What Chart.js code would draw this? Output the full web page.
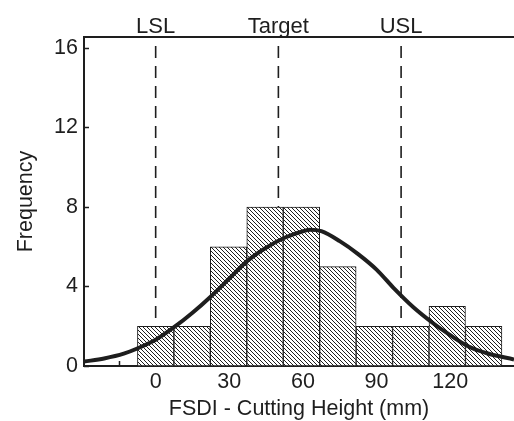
<!DOCTYPE html>
<html>
<head>
<meta charset="utf-8">
<script src="https://cdn.jsdelivr.net/npm/chart.js@4"></script>
<style>
  html, body { margin: 0; padding: 0; background: #fff; }
</style>
</head>
<body>
<canvas id="hist" width="514" height="421"></canvas>
<script>
// histogram bins (centre of each bin, mm) and counts
var binCenters = [0, 14.85, 29.7, 44.55, 59.4, 74.25, 89.1, 103.95, 118.8, 133.65];
var counts = [2, 2, 6, 8, 8, 5, 2, 2, 3, 2];

// fitted normal curve
var curveX = [-29.2, -21, -13, -7.5, 0, 7.5, 15, 22.5, 30, 37.5, 45, 52.5, 60, 63, 67.5, 75, 82.5, 90, 97.5, 105, 112.5, 120, 127.5, 135, 146];
var curveY = [0.22, 0.38, 0.62, 0.88, 1.32, 1.95, 2.68, 3.5, 4.4, 5.3, 5.95, 6.45, 6.78, 6.86, 6.78, 6.28, 5.63, 4.85, 3.85, 2.95, 2.2, 1.55, 0.98, 0.64, 0.33];

// spec limits
var limitNames = ["LSL", "Target", "USL"];
var limitValues = [0, 50, 100];
var limitTop = 16.1;

// axes
var xTicks = [0, 30, 60, 90, 120];
var xTickMarks = [-15, 0, 15, 30, 45, 60, 75, 90, 105, 120, 135];
var yTicks = [0, 4, 8, 12, 16];
var xRange = [-29.2, 146];
var yRange = [0, 16.55];

var ink = '#1e1e1e';
var fontFamily = '"Liberation Sans", Arial, Helvetica, sans-serif';
var fontSize = 21.5;

var canvas = document.getElementById('hist');
var ctx = canvas.getContext('2d');

function makeHatch() {
  var c = document.createElement('canvas');
  c.width = 4; c.height = 4;
  var g = c.getContext('2d');
  g.fillStyle = '#fff';
  g.fillRect(0, 0, 4, 4);
  g.strokeStyle = ink;
  g.lineWidth = 1;
  g.beginPath();
  g.moveTo(-1, -1); g.lineTo(5, 5);
  g.moveTo(-1, 3); g.lineTo(1, 5);
  g.moveTo(3, -1); g.lineTo(5, 1);
  g.stroke();
  return ctx.createPattern(c, 'repeat');
}

var limitSets = limitValues.map(function (v) {
  return {
    type: 'line',
    data: [{x: v, y: limitTop}, {x: v, y: 0}],
    borderColor: ink,
    borderWidth: 1.6,
    borderDash: [12, 8],
    pointRadius: 0,
    order: 3
  };
});

var decor = {
  id: 'decor',
  beforeDatasetsDraw: function (chart) {
    var c = chart.ctx, a = chart.chartArea, x = chart.scales.x, y = chart.scales.y;
    c.save();
    c.strokeStyle = ink;
    c.lineWidth = 1.5;
    c.beginPath();
    yTicks.forEach(function (v) {
      var py = Math.round(y.getPixelForValue(v)) + 0.5;
      c.moveTo(a.left, py); c.lineTo(a.left + 5, py);
    });
    xTickMarks.forEach(function (v) {
      var px = Math.round(x.getPixelForValue(v)) + 0.5;
      c.moveTo(px, a.bottom); c.lineTo(px, a.bottom - 5);
    });
    c.stroke();
    c.restore();
  },
  afterDraw: function (chart) {
    var c = chart.ctx, a = chart.chartArea, x = chart.scales.x;
    c.save();
    c.strokeStyle = ink;
    c.lineWidth = 2;
    c.beginPath();
    c.moveTo(a.left, a.top);
    c.lineTo(a.right, a.top);
    c.stroke();
    c.fillStyle = ink;
    c.font = '22px ' + fontFamily;
    c.textAlign = 'center';
    c.textBaseline = 'alphabetic';
    limitNames.forEach(function (name, i) {
      c.fillText(name, x.getPixelForValue(limitValues[i]), a.top - 4);
    });
    c.restore();
  }
};

new Chart(canvas, {
  type: 'line',
  data: {
    datasets: [{
      type: 'line',
      data: curveX.map(function (v, i) { return {x: v, y: curveY[i]}; }),
      borderColor: ink,
      borderWidth: 4,
      pointRadius: 0,
      cubicInterpolationMode: 'monotone',
      order: 1
    }, {
      type: 'bar',
      data: binCenters.map(function (v, i) { return {x: v, y: counts[i]}; }),
      backgroundColor: makeHatch(),
      borderColor: ink,
      borderWidth: 1,
      borderSkipped: false,
      barPercentage: 1,
      categoryPercentage: 1,
      order: 2
    }].concat(limitSets)
  },
  options: {
    responsive: false,
    animation: false,
    devicePixelRatio: 1,
    layout: { padding: { top: 37, right: 0, bottom: 0, left: 0 } },
    plugins: { legend: { display: false }, tooltip: { enabled: false } },
    scales: {
      x: {
        type: 'linear',
        min: xRange[0],
        max: xRange[1],
        offset: false,
        grid: { display: false, drawTicks: false },
        border: { display: true, color: ink, width: 2 },
        afterBuildTicks: function (s) { s.ticks = xTicks.map(function (v) { return {value: v}; }); },
        afterFit: function (s) { s.height = 55; },
        ticks: { color: ink, font: { family: fontFamily, size: fontSize }, padding: 3, maxRotation: 0 },
        title: {
          display: true,
          text: 'FSDI - Cutting Height (mm)',
          color: ink,
          font: { family: fontFamily, size: fontSize, lineHeight: 1 },
          padding: { top: 0, bottom: 1 }
        }
      },
      y: {
        type: 'linear',
        min: yRange[0],
        max: yRange[1],
        grid: { display: false, drawTicks: false },
        border: { display: true, color: ink, width: 2 },
        afterBuildTicks: function (s) { s.ticks = yTicks.map(function (v) { return {value: v}; }); },
        afterFit: function (s) { s.width = 84; },
        ticks: { color: ink, font: { family: fontFamily, size: fontSize }, padding: 6 },
        title: {
          display: true,
          text: 'Frequency',
          color: ink,
          font: { family: fontFamily, size: fontSize, lineHeight: 1 },
          padding: { top: 15, bottom: 0 }
        }
      }
    }
  },
  plugins: [decor]
});
</script>
</body>
</html>
